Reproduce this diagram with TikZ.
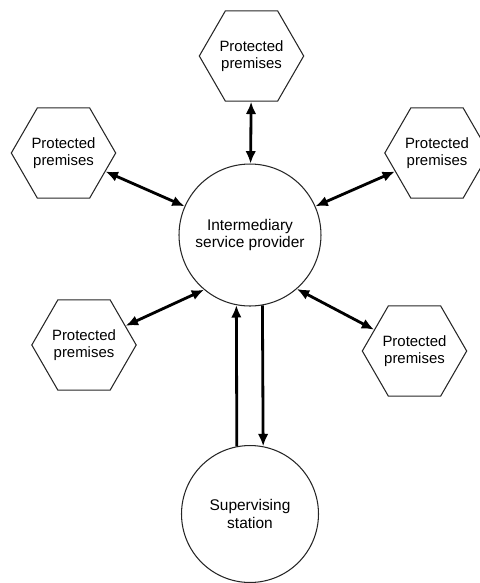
\documentclass[tikz,border=0pt]{standalone}
\usepackage{fontspec}
\setmainfont{Liberation Sans}
\usetikzlibrary{shapes.geometric,arrows.meta}

\begin{document}
\begin{tikzpicture}[x=0.02cm, y=-0.02cm,
    premises/.style={regular polygon, regular polygon sides=6, draw=black!85, line width=0.6pt,
        minimum size=2.06cm, inner sep=0pt, align=center, font=\fontsize{8.5}{9.8}\selectfont},
    hub/.style={circle, draw=black!85, line width=0.6pt, inner sep=0pt, align=center,
        font=\fontsize{8.8}{10}\selectfont},
    link/.style={line width=1.6pt, {Latex[length=7pt,width=6pt]}-{Latex[length=7pt,width=6pt]}},
    flow/.style={line width=1.6pt, -{Latex[length=7pt,width=6pt]}}]

    % Frame
    \useasboundingbox (0,0) rectangle (480,583);

    % Central provider and station
    \node[hub, minimum size=2.84cm] (isp) at (250,235) {Intermediary\\service provider};
    \node[hub, minimum size=2.74cm] (station) at (250,514) {Supervising\\station};

    % Protected premises
    \node[premises] (top) at (251.5,56) {Protected\\premises};
    \node[premises] (upleft) at (63.5,153) {Protected\\premises};
    \node[premises] (upright) at (437,153) {Protected\\premises};
    \node[premises] (lowleft) at (84,345) {Protected\\premises};
    \node[premises] (lowright) at (414.5,351) {Protected\\premises};

    % Links to premises
    \draw[link] (top) -- (isp);
    \draw[link] (upleft) -- (isp);
    \draw[link] (upright) -- (isp);
    \draw[link] (lowleft) -- (isp.230);
    \draw[link] (lowright) -- (isp.311);

    % Links to station
    \draw[flow] (station.101) -- (isp.259.5);
    \draw[flow] (isp.280.5) -- (station.79);

\end{tikzpicture}
\end{document}
